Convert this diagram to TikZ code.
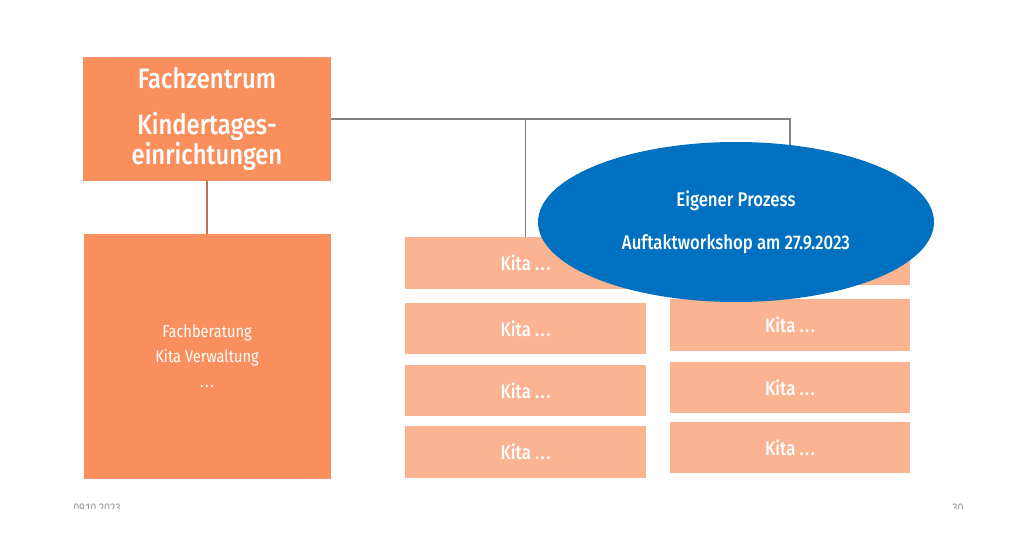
\documentclass[tikz,border=0pt]{standalone}
\usepackage{fontspec}
\setmainfont{Fira Sans}[FakeStretch=0.85]
\newfontfamily\medfont{Fira Sans Medium}[FakeStretch=0.85]
\usetikzlibrary{shapes.geometric}
\definecolor{orangeD}{HTML}{F98F5C}
\definecolor{orangeL}{HTML}{FBB391}
\definecolor{blueE}{HTML}{0070C0}
\definecolor{lineG}{HTML}{808080}
\definecolor{lineB}{HTML}{C47256}
\newcommand{\mydots}{.\kern1.2pt.\kern1.2pt.}
\begin{document}
\begin{tikzpicture}[x=0.75pt,y=-0.75pt,
  bigbox/.style={rectangle,fill=orangeD,text=white,inner sep=0pt,align=center},
  kitabox/.style={rectangle,fill=orangeL,text=white,inner sep=0pt,minimum height=38.5pt,
    font=\medfont\fontsize{14.8}{16}\selectfont},
  kitaL/.style={kitabox,minimum width=180.75pt},
  kitaR/.style={kitabox,minimum width=180pt},
  conn/.style={draw=lineG,line width=1.1pt},
  footer/.style={text=black!40,font=\fontsize{9.5}{10}\selectfont,inner sep=0pt,anchor=base}]
\useasboundingbox (0,0) rectangle (1024,534);
\fill[white] (0,0) rectangle (1024,534);
% main boxes
\node[bigbox,minimum width=186pt,minimum height=93pt,
  font=\medfont\fontsize{21}{20}\selectfont] (fz) at (207,119)
  {Fachzentrum\\[14pt]Kindertages-\\einrichtungen};
\node[bigbox,minimum width=185.25pt,minimum height=183.75pt,
  font=\fontsize{12.9}{18.75}\selectfont] (fb) at (207,356.5)
  {Fachberatung\\Kita Verwaltung\\\mydots};
% Kita boxes
\node[kitaL] (k1) at (525.5,263) {Kita \mydots};
\node[kitaL] (k2) at (525.5,328.5) {Kita \mydots};
\node[kitaL] (k3) at (525.5,390.5) {Kita \mydots};
\node[kitaL] (k4) at (525.5,452) {Kita \mydots};
\node[kitaR] (k5) at (790,259) {Kita \mydots};
\node[kitaR] (k6) at (790,325) {Kita \mydots};
\node[kitaR] (k7) at (790,387.5) {Kita \mydots};
\node[kitaR] (k8) at (790,447.5) {Kita \mydots};
% connectors
\draw[draw=lineB,line width=0.8pt] (fz.south) -- (fb.north);
\coordinate (br) at (k1.north |- fz.east);
\draw[conn] (fz.east) -| (k5.north);
\draw[conn] (br) -- (k1.north);
% ellipse
\node[ellipse,fill=blueE,text=white,minimum width=297pt,minimum height=120pt,inner sep=0pt,
  align=center,font=\medfont\fontsize{14.8}{16}\selectfont] (ep) at (736,222)
  {Eigener Prozess\\[16pt]Auftaktworkshop am 27.9.2023};
% footer (cut off)
\begin{scope}
\clip (0,0) rectangle (1024,508.5);
\node[footer] (date) at (97,512) {09.10.2023};
\node[footer] (page) at (958,512) {30};
\end{scope}
\end{tikzpicture}
\end{document}
